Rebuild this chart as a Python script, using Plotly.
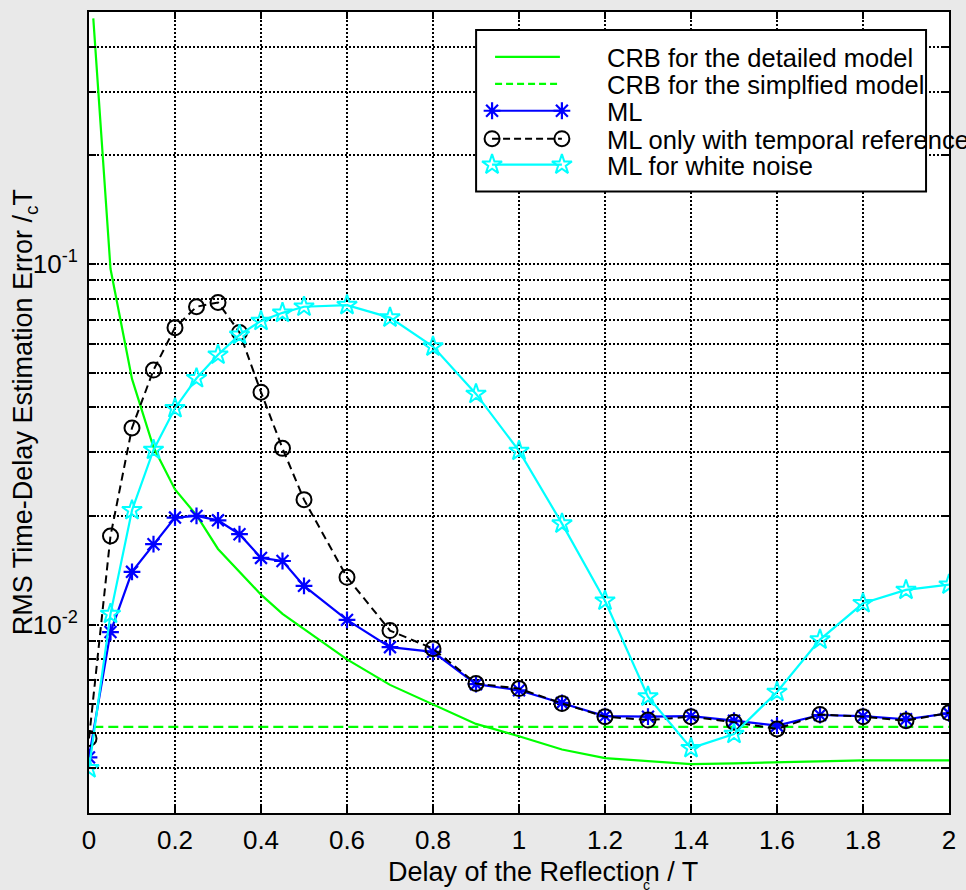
import math
import plotly.graph_objects as go

# ---------------------------------------------------------------------------
# Data: RMS time-delay estimation error versus delay of the reflection (in T_c)
# ---------------------------------------------------------------------------
delay = [0.0, 0.05, 0.1, 0.15, 0.2, 0.25, 0.3, 0.35, 0.4, 0.45, 0.5,
         0.6, 0.7, 0.8, 0.9, 1.0, 1.1, 1.2, 1.3, 1.4, 1.5, 1.6, 1.7, 1.8, 1.9, 2.0]

rms_ml = [0.00428, 0.00953, 0.0140, 0.0167, 0.0198, 0.0200, 0.01945, 0.0178, 0.0153, 0.0150, 0.0128,
          0.0103, 0.00865, 0.0084, 0.00683, 0.00657, 0.00606, 0.00557, 0.00555, 0.00557, 0.00541,
          0.00524, 0.00561, 0.00557, 0.00546, 0.00567]

rms_ml_temporal = [0.00483, 0.0176, 0.0351, 0.0508, 0.0666, 0.0761, 0.0782, 0.0646, 0.0441, 0.0308, 0.0222,
                   0.01352, 0.00962, 0.00857, 0.00686, 0.00664, 0.00604, 0.00555, 0.00543, 0.00555, 0.00536,
                   0.00513, 0.00563, 0.00555, 0.00541, 0.00569]

rms_ml_white = [0.00399, 0.0107, 0.02075, 0.0305, 0.0398, 0.0482, 0.0560, 0.0636, 0.0695, 0.0732, 0.0761,
                0.0769, 0.0710, 0.0590, 0.0436, 0.0303, 0.01905, 0.01164, 0.00631, 0.00454, 0.00497,
                0.0065, 0.00908, 0.01145, 0.01247, 0.0129]

crb_delay = [0.01, 0.05, 0.1, 0.15, 0.2, 0.25, 0.3, 0.35, 0.4, 0.45, 0.5,
             0.6, 0.7, 0.8, 0.9, 1.0, 1.1, 1.2, 1.3, 1.4, 1.5, 1.6, 1.7, 1.8, 1.9, 2.0]
crb_detailed = [0.48, 0.097, 0.048, 0.031, 0.0237, 0.0201, 0.0162, 0.0140, 0.0121, 0.0107, 0.0097,
                0.0080, 0.0068, 0.0060, 0.0053, 0.0049, 0.0045, 0.00426, 0.00418, 0.0041, 0.00412,
                0.00414, 0.00417, 0.0042, 0.0042, 0.0042]

crb_simplified_delay = [0.01, 2.0]
crb_simplified = [0.0052, 0.0052]

x_ticks = [0, 0.2, 0.4, 0.6, 0.8, 1.0, 1.2, 1.4, 1.6, 1.8, 2.0]
x_ticktext = ["0", "0.2", "0.4", "0.6", "0.8", "1", "1.2", "1.4", "1.6", "1.8", "2"]
x_range = [0, 2]

y_ticks = [0.003, 0.004, 0.005, 0.006, 0.007, 0.008, 0.009,
           0.01, 0.02, 0.03, 0.04, 0.05, 0.06, 0.07, 0.08, 0.09,
           0.1, 0.2, 0.3, 0.4, 0.5]
y_labels = {0.01: "10<sup>-2</sup>", 0.1: "10<sup>-1</sup>"}
y_range = [0.003, 0.5]

legend_names = ["CRB for the detailed model",
                "CRB for the simplfied model",
                "ML",
                "ML only with temporal reference",
                "ML for white noise"]

# ---------------------------------------------------------------------------
# Layout geometry (pixels)
# ---------------------------------------------------------------------------
W, H = 966, 890
L, R, T, B = 89, 15, 10, 77
PW, PH = W - L - R, H - T - B
FONT = "Liberation Sans, Arial, Helvetica, sans-serif"
LOG_LO, LOG_HI = math.log10(y_range[0]), math.log10(y_range[1])


def fx(px):
    """Pixel column -> fraction of the plot width."""
    return (px - L) / PW


def fy(py):
    """Pixel row -> fraction of the plot height."""
    return (H - B - py) / PH


def data_x(px):
    return x_range[0] + fx(px) * (x_range[1] - x_range[0])


def data_y(py):
    return 10 ** (LOG_LO + fy(py) * (LOG_HI - LOG_LO))


GREEN, BLUE, BLACK, CYAN = "#00ff00", "#0000ff", "#000000", "#00ffff"

fig = go.Figure()

fig.add_trace(go.Scatter(x=crb_delay, y=crb_detailed, mode="lines",
                         line=dict(color=GREEN, width=2.2), name=legend_names[0]))
fig.add_trace(go.Scatter(x=crb_simplified_delay, y=crb_simplified, mode="lines",
                         line=dict(color=GREEN, width=2.2, dash="10px,5px"), name=legend_names[1]))
fig.add_trace(go.Scatter(x=delay, y=rms_ml, mode="lines+markers",
                         line=dict(color=BLUE, width=2.2),
                         marker=dict(symbol="asterisk-open", size=14,
                                     line=dict(color=BLUE, width=2.2)),
                         name=legend_names[2]))
fig.add_trace(go.Scatter(x=delay, y=rms_ml_temporal, mode="lines+markers",
                         line=dict(color=BLACK, width=2, dash="8px,5px"),
                         marker=dict(symbol="circle-open", size=15,
                                     line=dict(color=BLACK, width=2)),
                         name=legend_names[3]))
fig.add_trace(go.Scatter(x=delay, y=rms_ml_white, mode="lines+markers",
                         line=dict(color=CYAN, width=2.2),
                         marker=dict(symbol="star-open", size=15,
                                     line=dict(color=CYAN, width=2)),
                         name=legend_names[4]))

# ---------------------------------------------------------------------------
# Hand-built legend box (samples drawn on an overlay axis in plot fractions)
# ---------------------------------------------------------------------------
row_y = [55, 82, 109, 137, 163]
sample_x0, sample_x1 = 493, 563
sample_styles = [
    dict(mode="lines", line=dict(color=GREEN, width=2.2), x0=496, x1=561),
    dict(mode="lines", line=dict(color=GREEN, width=2.2, dash="7px,4px"), x0=496, x1=561),
    dict(mode="lines+markers", line=dict(color=BLUE, width=2.2),
         marker=dict(symbol="asterisk-open", size=14, line=dict(color=BLUE, width=2.2))),
    dict(mode="lines+markers", line=dict(color=BLACK, width=2, dash="7px,4px"),
         marker=dict(symbol="circle-open", size=15, line=dict(color=BLACK, width=2))),
    dict(mode="lines+markers", line=dict(color=CYAN, width=2.2),
         marker=dict(symbol="star-open", size=15, line=dict(color=CYAN, width=2))),
]
for yy, st in zip(row_y, sample_styles):
    st = dict(st)
    a = st.pop("x0", sample_x0)
    b = st.pop("x1", sample_x1)
    fig.add_trace(go.Scatter(x=[fx(a), fx(b)], y=[fy(yy), fy(yy)], xaxis="x2", yaxis="y2",
                             cliponaxis=False, showlegend=False, hoverinfo="skip", **st))

# White legend frame: above the grid, below the traces
shapes = [dict(type="rect", xref="x", yref="y", layer="between",
               x0=data_x(477), x1=data_x(928), y0=data_y(190), y1=data_y(28),
               fillcolor="white", line=dict(color="black", width=2))]

annotations = []
for yy, name in zip(row_y, legend_names):
    annotations.append(dict(text=name, xref="paper", yref="paper", x=fx(606), y=fy(yy + 1),
                            xanchor="left", yanchor="middle", showarrow=False,
                            font=dict(family=FONT, size=25.5, color="black")))

# Axis titles
annotations.append(dict(text="RMS Time-Delay Estimation Error /<sub>c</sub>T",
                        xref="paper", yref="paper", x=fx(25), y=fy(411), textangle=-90,
                        xanchor="center", yanchor="middle", showarrow=False,
                        font=dict(family=FONT, size=27, color="black")))
annotations.append(dict(text="Delay of the Reflection / T", xref="paper", yref="paper",
                        x=fx(387), y=fy(872), xanchor="left", yanchor="middle", showarrow=False,
                        font=dict(family=FONT, size=27, color="black")))
annotations.append(dict(text="c", xref="paper", yref="paper",
                        x=fx(648), y=fy(885), xanchor="center", yanchor="middle", showarrow=False,
                        font=dict(family=FONT, size=14, color="black")))

grid_common = dict(showgrid=True, gridcolor="black", gridwidth=2, griddash="2px,2px",
                   showline=True, linecolor="black", linewidth=2, mirror="allticks",
                   ticks="inside", ticklen=7, tickwidth=1.5, tickcolor="black",
                   zeroline=False, tickfont=dict(family=FONT, size=26, color="black"))

fig.update_layout(
    width=W, height=H,
    margin=dict(l=L, r=R, t=T, b=B),
    paper_bgcolor="#e9e9e9",
    plot_bgcolor="white",
    showlegend=False,
    font=dict(family=FONT, color="black"),
    xaxis=dict(range=x_range, tickmode="array", tickvals=x_ticks, ticktext=x_ticktext,
               ticklabelstandoff=3, **grid_common),
    yaxis=dict(type="log", range=[LOG_LO, LOG_HI], tickmode="array",
               tickvals=y_ticks, ticktext=[y_labels.get(v, "") for v in y_ticks],
               ticklabelstandoff=4, **grid_common),
    xaxis2=dict(overlaying="x", anchor="y2", range=[0, 1], visible=False, fixedrange=True),
    yaxis2=dict(overlaying="y", anchor="x2", range=[0, 1], visible=False, fixedrange=True),
    shapes=shapes,
    annotations=annotations,
)

fig.write_html("out.html", config=dict(displayModeBar=False))
